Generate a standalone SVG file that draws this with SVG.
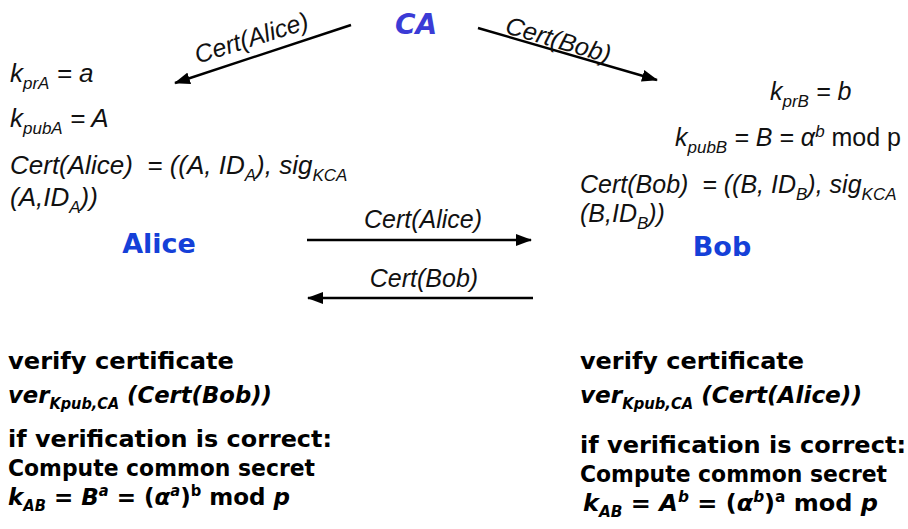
<svg xmlns="http://www.w3.org/2000/svg" width="908" height="529" viewBox="0 0 908 529">
  <defs>
    <marker id="arrow" viewBox="0 0 16 12" refX="15" refY="6" markerWidth="16" markerHeight="12" markerUnits="userSpaceOnUse" orient="auto">
      <path d="M0,0 L16,6 L0,12 Z" fill="#000"/>
    </marker>
    <style>
      .lbl { font-family: "Liberation Sans", Arial, sans-serif; font-style: italic; font-size: 25px; fill: #111; white-space: pre; }
      .big { font-size: 26px; }
      .sub { font-size: 17px; }
      .up { font-style: normal; }
      .name { font-family: "DejaVu Sans", "Comic Sans MS", sans-serif; font-weight: bold; font-size: 27px; fill: #1540d8; }
      .ca { font-family: "DejaVu Sans", "Comic Sans MS", sans-serif; font-weight: bold; font-style: italic; font-size: 28px; fill: #3b3bd6; }
      .step { font-family: "DejaVu Sans", "Comic Sans MS", sans-serif; font-weight: bold; font-size: 23.5px; fill: #000; white-space: pre; }
      .it { font-style: italic; }
      .ssub { font-size: 15px; }
      .conn { stroke: #000; stroke-width: 2.5; fill: none; marker-end: url(#arrow); }
    </style>
  </defs>

  <!-- certificate authority -->
  <g id="ca">
    <text class="ca" x="416" y="34" text-anchor="middle">CA</text>
  </g>

  <!-- Alice and her key material -->
  <g id="alice">
    <text class="lbl big" x="10" y="82">k<tspan class="sub" dy="7">prA</tspan><tspan dy="-7"> = a</tspan></text>
    <text class="lbl big" x="10" y="127">k<tspan class="sub" dy="7">pubA</tspan><tspan dy="-7"> = A</tspan></text>
    <text class="lbl big" x="10" y="174">Cert(Alice)  = ((A, ID<tspan class="sub" dy="7">A</tspan><tspan dy="-7">), sig</tspan><tspan class="sub" dy="7">KCA</tspan></text>
    <text class="lbl big" x="10" y="206">(A,ID<tspan class="sub" dy="7">A</tspan><tspan dy="-7">))</tspan></text>
    <text class="name" x="159" y="253" text-anchor="middle">Alice</text>
  </g>

  <!-- Bob and his key material -->
  <g id="bob">
    <text class="lbl" x="770" y="100">k<tspan class="sub" dy="7">prB</tspan><tspan dy="-7"> = b</tspan></text>
    <text class="lbl" x="675" y="146">k<tspan class="sub" dy="7">pubB</tspan><tspan dy="-7"> = B = α</tspan><tspan class="sub" dy="-9">b</tspan><tspan dy="9" class="up"> mod p</tspan></text>
    <text class="lbl" x="580" y="193">Cert(Bob)  = ((B, ID<tspan class="sub" dy="7">B</tspan><tspan dy="-7">), sig</tspan><tspan class="sub" dy="7">KCA</tspan></text>
    <text class="lbl" x="580" y="222">(B,ID<tspan class="sub" dy="7">B</tspan><tspan dy="-7">))</tspan></text>
    <text class="name" x="722" y="256" text-anchor="middle">Bob</text>
  </g>

  <!-- message arrows -->
  <g id="connectors">
    <line class="conn" x1="351" y1="25" x2="175" y2="83"/>
    <text class="lbl" transform="translate(254,46) rotate(-17.5)" text-anchor="middle">Cert(Alice)</text>
    <line class="conn" x1="478" y1="28" x2="657" y2="80"/>
    <text class="lbl" transform="translate(556,48) rotate(16.3)" text-anchor="middle">Cert(Bob)</text>
    <line class="conn" x1="307" y1="240" x2="531" y2="240"/>
    <text class="lbl" x="423" y="228" text-anchor="middle">Cert(Alice)</text>
    <line class="conn" x1="533" y1="298" x2="308" y2="298"/>
    <text class="lbl" x="424" y="287" text-anchor="middle">Cert(Bob)</text>
  </g>

  <!-- Alice's verification steps -->
  <g id="alice-steps">
    <text class="step" x="8" y="369" textLength="226" lengthAdjust="spacingAndGlyphs">verify certificate</text>
    <text class="step it" x="8" y="403" textLength="264" lengthAdjust="spacingAndGlyphs">ver<tspan class="ssub" dy="6">Kpub,CA</tspan><tspan dy="-6"> (Cert(Bob))</tspan></text>
    <text class="step" x="8" y="447" textLength="324" lengthAdjust="spacingAndGlyphs">if verification is correct:</text>
    <text class="step" x="8" y="476" textLength="307" lengthAdjust="spacingAndGlyphs">Compute common secret</text>
    <text class="step" x="8" y="505" textLength="282" lengthAdjust="spacingAndGlyphs"><tspan class="it">k</tspan><tspan class="ssub it" dy="6">AB</tspan><tspan dy="-6"> = </tspan><tspan class="it">B</tspan><tspan class="ssub it" dy="-9">a</tspan><tspan dy="9"> = (</tspan><tspan class="it">α</tspan><tspan class="ssub it" dy="-9">a</tspan><tspan dy="9">)</tspan><tspan class="ssub" dy="-9">b</tspan><tspan dy="9"> mod </tspan><tspan class="it">p</tspan></text>
  </g>

  <!-- Bob's verification steps -->
  <g id="bob-steps">
    <text class="step" x="580" y="369" textLength="224" lengthAdjust="spacingAndGlyphs">verify certificate</text>
    <text class="step it" x="580" y="403" textLength="282" lengthAdjust="spacingAndGlyphs">ver<tspan class="ssub" dy="6">Kpub,CA</tspan><tspan dy="-6"> (Cert(Alice))</tspan></text>
    <text class="step" x="580" y="453" textLength="326" lengthAdjust="spacingAndGlyphs">if verification is correct:</text>
    <text class="step" x="580" y="482" textLength="307" lengthAdjust="spacingAndGlyphs">Compute common secret</text>
    <text class="step" x="583" y="511" textLength="295" lengthAdjust="spacingAndGlyphs"><tspan class="it">k</tspan><tspan class="ssub it" dy="6">AB</tspan><tspan dy="-6"> = </tspan><tspan class="it">A</tspan><tspan class="ssub it" dy="-9">b</tspan><tspan dy="9"> = (</tspan><tspan class="it">α</tspan><tspan class="ssub it" dy="-9">b</tspan><tspan dy="9">)</tspan><tspan class="ssub" dy="-9">a</tspan><tspan dy="9"> mod </tspan><tspan class="it">p</tspan></text>
  </g>
</svg>
